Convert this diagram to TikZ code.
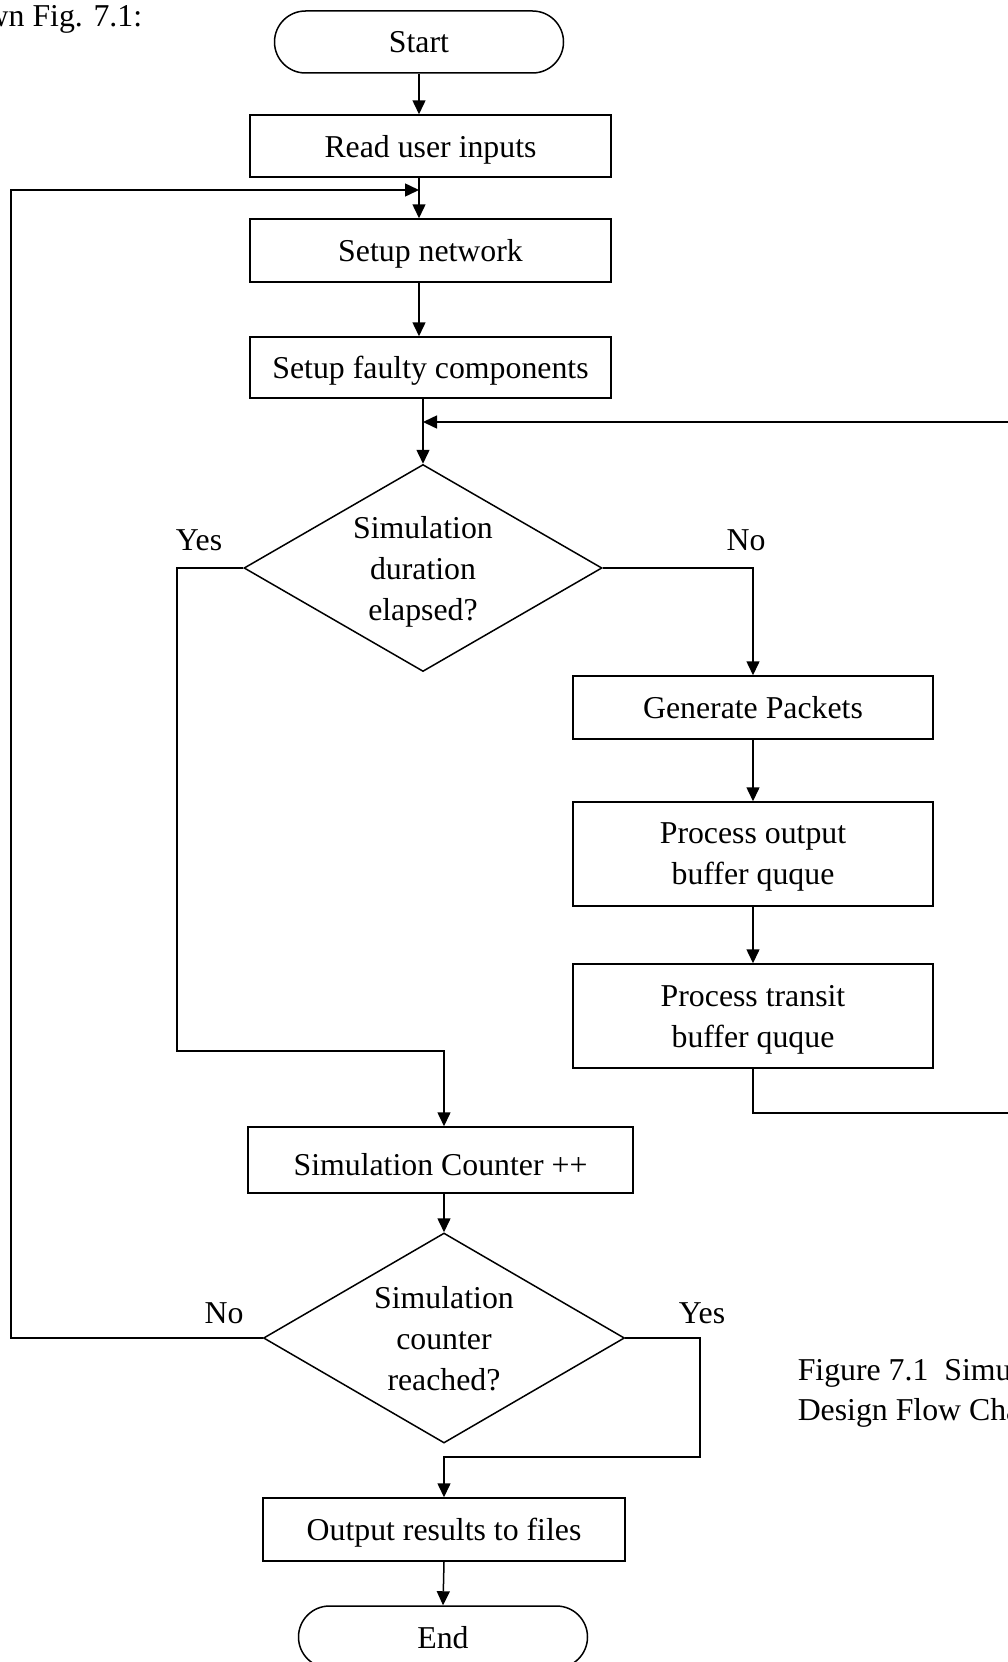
\documentclass[tikz,border=0pt]{standalone}
\usepackage{fontspec}
\setmainfont{Liberation Serif}
\usetikzlibrary{arrows.meta,shapes.geometric,shapes.misc}
\begin{document}
\begin{tikzpicture}[x=1pt,y=-1pt,line width=1.5pt,
  font=\fontsize{31.8pt}{41pt}\selectfont,
  term/.style={draw, rounded rectangle, minimum width=289pt, minimum height=62pt, inner sep=0pt, text depth=0pt},
  proc/.style={draw, rectangle, minimum width=361pt, minimum height=62pt, inner sep=0pt, align=center, text depth=0pt},
  decision/.style={draw, diamond, minimum width=358pt, minimum height=207pt, inner sep=0pt},
  dtext/.style={align=center, inner sep=0pt, text depth=0pt},
  flow/.style={-{Triangle[length=14pt,width=13pt]}},
  lbl/.style={inner sep=0pt}]

% page area
\fill[white] (0,0) rectangle (1008,1662);
\useasboundingbox (0,0) rectangle (1008,1662);

% surrounding text
\node[lbl, anchor=base west] (lead) at (-15,27) {wn Fig. 7.1:};
\node[lbl, anchor=base west] (cap1) at (797,1380) {Figure 7.1~ Simu};
\node[lbl, anchor=base west] (cap2) at (797,1420) {Design Flow Cha};

% main column
\node[term] (start) at (419,42) {Start};
\node[proc] (read) at (430.5,146) {Read user inputs};
\node[proc, minimum height=63pt] (net) at (430.5,250.5) {Setup network};
\node[proc, minimum height=61pt] (fault) at (430.5,367.5) {Setup faulty components};
\node[decision] (d1) at (423,568) {};
\node[dtext] (d1t) at (d1) {Simulation\\duration\\elapsed?};

% packet processing branch
\node[proc, minimum width=360pt, minimum height=63pt] (gen) at (753,707.5) {Generate Packets};
\node[proc, minimum width=360pt, minimum height=104pt] (pout) at (753,854) {Process output\\buffer quque};
\node[proc, minimum width=360pt, minimum height=104pt] (ptra) at (753,1016) {Process transit\\buffer quque};

% counter and finish
\node[proc, minimum width=385pt, minimum height=66pt, text height=30pt] (cnt) at (440.5,1160) {Simulation Counter ++};
\node[decision, minimum width=361pt, minimum height=210pt] (d2) at (444,1338) {};
\node[dtext] (d2t) at (d2) {Simulation\\counter\\reached?};
\node[proc, minimum width=362pt, minimum height=63pt] (out) at (444,1529.5) {Output results to files};
\node[term] (end) at (443,1637) {End};

% branch labels
\node (yes1) at (199,540) {Yes};
\node (no1) at (746,540) {No};
\node (no2) at (224,1313) {No};
\node (yes2) at (702,1313) {Yes};

% straight connectors
\draw[flow] (start.south) -- (start.south |- read.north);
\draw[flow] (start.south |- read.south) -- (start.south |- net.north);
\draw[flow] (start.south |- net.south) -- (start.south |- fault.north);
\draw[flow] (d1.north |- fault.south) -- (d1.north);
\draw[flow] (gen.south) -- (pout.north);
\draw[flow] (pout.south) -- (ptra.north);
\draw[flow] (d2.north |- cnt.south) -- (d2.north);
\draw[flow] (out.south) -- (end.north);

% decision branches
\draw[flow] (d1.east) -| (gen.north);
\coordinate (ycorner) at (177,1051);
\draw[flow] (d1.west) -| (ycorner) -| (d2.north |- cnt.north);
\coordinate (y2corner) at (700,1457);
\draw[flow] (d2.east) -| (y2corner) -| (out.north);

% loops back
\coordinate (lcorner) at (11,190);
\draw[flow] (d2.west) -| (lcorner) -- (lcorner -| start.south);
\coordinate (rbot) at (1016,1113);
\coordinate (rtop) at (1016,422);
\draw[flow] (ptra.south) |- (rbot) -- (rtop) -- (rtop -| d1.north);
\end{tikzpicture}
\end{document}
